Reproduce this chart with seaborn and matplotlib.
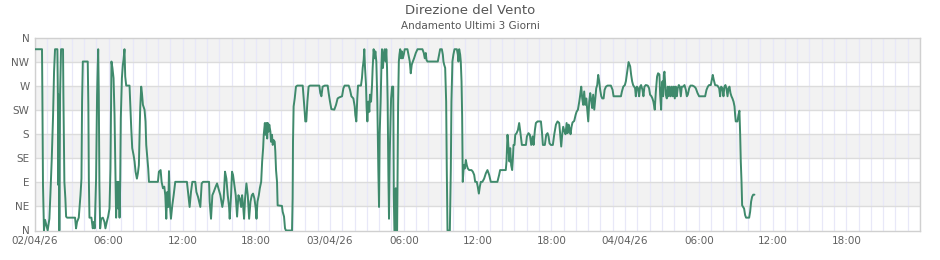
import matplotlib
matplotlib.use("Agg")
import matplotlib.pyplot as plt
import seaborn as sns
import pandas as pd

# hours since 02/04/26 00:00
hours = [
    0, 0.57, 0.60, 0.65, 0.73, 0.82, 0.95, 1.03, 1.17, 1.25, 1.36, 1.47, 1.55, 1.63, 1.82, 1.86, 1.90, 1.93, 1.98, 2.04,
    2.12, 2.28, 2.31, 2.39, 2.47, 2.53, 2.61, 3.26, 3.34, 3.42, 3.56, 3.70, 3.78, 3.83, 3.89, 4.29, 4.34, 4.38, 4.43, 4.59,
    4.70, 4.78, 4.86, 4.97, 5.05, 5.14, 5.19, 5.24, 5.30, 5.38, 5.52, 5.65, 5.73, 5.84, 5.95, 6.06, 6.14, 6.22, 6.30, 6.39,
    6.47, 6.55, 6.60, 6.68, 6.77, 6.82, 6.88, 6.93, 6.98, 7.07, 7.15, 7.20, 7.28, 7.34, 7.42, 7.69, 7.74, 7.83, 7.91, 8.02,
    8.10, 8.18, 8.29, 8.37, 8.45, 8.51, 8.56, 8.64, 8.70, 8.78, 8.91, 8.99, 9.05, 9.16, 9.21, 9.27, 9.73,
    10.0, 10.08, 10.22, 10.30, 10.41, 10.52, 10.60, 10.68, 10.76, 10.84, 10.90, 10.98, 11.06, 11.17, 11.28, 11.41, 12.36,
    12.45, 12.58, 12.69, 12.80, 13.04, 13.13, 13.26, 13.45, 13.56, 13.67, 14.16, 14.21, 14.32, 14.43, 14.54, 14.70, 14.81,
    14.92, 15.08, 15.24, 15.35, 15.46, 15.57, 15.68, 15.79, 15.84, 15.95, 16.03, 16.11, 16.20, 16.33, 16.44, 16.55, 16.66,
    16.77, 16.85, 16.93, 17.01, 17.09, 17.20, 17.31, 17.42, 17.53, 17.64, 17.74, 17.85, 17.96, 18.02, 18.10, 18.21, 18.29,
    18.40, 18.48, 18.56, 18.61, 18.70, 18.75, 18.83, 18.89, 18.94, 19.00,
    19.06, 19.15, 19.20, 19.28, 19.34, 19.42, 19.50, 19.55, 19.61, 19.69, 19.74, 20.09, 20.15, 20.26, 20.34, 20.42, 20.91,
    20.96, 20.99, 21.04, 21.13, 21.23, 21.34, 21.78, 21.86, 21.94, 21.99, 22.07, 22.16, 22.26, 22.37, 23.13, 23.21, 23.30,
    23.40, 23.57, 23.81, 23.89, 24.00, 24.11, 24.35, 24.49, 24.62, 24.76, 24.98, 25.09, 25.19, 25.52, 25.63, 25.74, 25.90,
    26.01, 26.06, 26.14, 26.22, 26.28, 26.52, 26.60, 26.66, 26.74, 26.79, 26.85, 26.93, 26.98, 27.04, 27.12, 27.20, 27.25,
    27.34, 27.42, 27.47, 27.55, 27.63, 27.69, 27.77, 27.85, 27.93, 27.99, 28.04, 28.12, 28.18, 28.23, 28.31, 28.37, 28.45,
    28.53, 28.58, 28.64, 28.69, 28.75, 28.80,
    28.86, 28.92, 28.97, 29.05, 29.14, 29.16, 29.19, 29.24, 29.33, 29.35, 29.41, 29.46, 29.49, 29.54, 29.60, 29.65, 29.71,
    29.79, 29.84, 29.92, 30.00, 30.08, 30.30, 30.38, 30.49, 30.57, 30.65, 30.74, 30.84, 30.98, 31.12, 31.52, 31.63, 31.71,
    31.79, 31.85, 31.93, 32.06, 32.77, 32.88, 32.96, 33.10, 33.18, 33.23, 33.29, 33.37, 33.45, 33.50, 33.56, 33.75, 33.83,
    33.88, 33.96, 34.04, 34.13, 34.32, 34.40, 34.45, 34.51, 34.59, 34.64, 34.70, 34.75, 34.78, 34.80, 34.89, 34.97, 35.05,
    35.13, 35.21, 35.32, 35.51, 35.62, 35.73, 35.81, 35.94, 36.02, 36.11, 36.19, 36.27, 36.40, 36.54, 36.68, 36.81, 36.95,
    37.08, 37.62, 37.76, 37.84, 38.30, 38.36, 38.44, 38.49, 38.55, 38.60, 38.66,
    38.74, 38.82, 38.88, 38.93, 39.01, 39.07, 39.18, 39.29, 39.39, 39.48, 39.56, 39.61, 39.94, 40.02, 40.15, 40.26, 40.37,
    40.48, 40.56, 40.67, 40.75, 40.89, 41.16, 41.24, 41.32, 41.48, 41.59, 41.70, 41.78, 41.86, 41.97, 42.13, 42.24, 42.38,
    42.51, 42.65, 42.73, 42.81, 42.89, 42.97, 43.08, 43.16, 43.25, 43.33, 43.41, 43.49, 43.57, 43.65, 43.73, 43.87, 43.98,
    44.06, 44.17, 44.28, 44.36, 44.44, 44.52, 44.60, 44.68, 44.76, 44.85, 44.93, 45.01, 45.09, 45.17, 45.25, 45.33, 45.41,
    45.50, 45.58, 45.66, 45.74, 45.82, 45.90, 45.98, 46.07, 46.15, 46.26, 46.34, 46.45, 46.58, 46.85, 46.99, 47.07, 47.26,
    47.67, 47.75, 47.86, 47.99, 48.07, 48.18, 48.29,
    48.42, 48.50, 48.58, 48.66, 48.74, 48.82, 48.88, 48.96, 49.07, 49.15, 49.23, 49.31, 49.42, 49.50, 49.58, 49.69, 49.85,
    49.96, 50.04, 50.15, 50.23, 50.31, 50.42, 50.51, 50.61, 50.69, 50.80, 50.86, 50.94, 50.99, 51.05, 51.10, 51.16, 51.21,
    51.26, 51.32, 51.40, 51.48, 51.56, 51.64, 51.72, 51.81, 51.89, 51.97, 52.05, 52.13, 52.21, 52.29, 52.38, 52.46, 52.54,
    52.62, 52.73, 52.84, 52.95, 53.03, 53.11, 53.22, 53.33, 53.49, 53.65, 53.76, 53.90, 54.03, 54.52, 54.63, 54.74, 54.84,
    54.98, 55.06, 55.14, 55.22, 55.33, 55.52, 55.66, 55.74, 55.82, 55.93, 56.01, 56.09, 56.17, 56.25, 56.34, 56.42, 56.50,
    56.58, 56.66, 56.74, 56.83, 56.91, 56.96, 57.01, 57.15, 57.23, 57.31, 57.37, 57.42, 57.48, 57.53, 57.61, 57.69, 57.77,
    57.85, 58.10, 58.18, 58.26, 58.34, 58.43, 58.53,
]

# wind direction in degrees
direction = [
    339, 339, 254, 85, 0, 20, 8, 0, 22, 66, 132, 215, 297, 339, 339, 254, 85, 254, 0, 254,
    339, 339, 254, 91, 60, 26, 24, 24, 4, 16, 24, 66, 97, 241, 316, 316, 235, 97, 24, 24,
    4, 16, 4, 97, 254, 339, 254, 85, 4, 22, 24, 16, 4, 16, 26, 41, 116, 316, 304, 285,
    216, 91, 24, 91, 41, 91, 24, 85, 210, 285, 310, 319, 339, 288, 271, 271, 241, 191, 154, 141,
    129, 110, 97, 107, 122, 179, 229, 269, 257, 235, 226, 204, 160, 129, 116, 91, 91,
    91, 110, 113, 91, 79, 82, 66, 22, 72, 44, 111, 47, 22, 47, 66, 91, 91,
    72, 44, 72, 91, 91, 72, 63, 44, 88, 91, 91, 54, 22, 66, 72, 82, 88,
    79, 66, 44, 60, 110, 97, 66, 44, 22, 66, 110, 104, 88, 66, 26, 66, 60,
    44, 66, 47, 22, 60, 88, 66, 22, 54, 66, 69, 60, 41, 22, 54, 66, 79,
    91, 129, 154, 179, 201, 179, 201, 172, 201, 185,
    198, 185, 166, 179, 160, 169, 166, 148, 113, 91, 47, 46, 35, 26, 4, 0, 0,
    60, 166, 232, 247, 269, 271, 271, 247, 222, 204, 204, 241, 269, 271, 271, 257, 251,
    269, 271, 271, 257, 241, 227, 226, 235, 247, 249, 251, 266, 271, 271, 263, 251, 247,
    232, 216, 204, 247, 271, 271, 285, 304, 319, 339, 304, 272, 229, 204, 241, 222, 254,
    241, 272, 304, 339, 322, 335, 316, 241, 116, 44, 179, 241, 304, 339, 304, 329, 339,
    316, 339, 304, 241, 104, 22,
    141, 204, 247, 269, 269, 204, 66, 0, 0, 79, 0, 0, 79, 235, 316, 329, 339,
    322, 335, 322, 329, 339, 339, 329, 316, 294, 310, 316, 322, 332, 339, 339, 332, 322,
    332, 319, 316, 316, 316, 329, 339, 339, 329, 316, 310, 304, 241, 116, 0, 0, 116,
    241, 316, 329, 339, 339, 329, 316, 339, 329, 316, 279, 216, 151, 91, 122, 116, 132,
    122, 116, 113, 113, 110, 104, 91, 91, 82, 69, 82, 91, 91, 97, 107, 113, 104,
    91, 91, 104, 113, 113, 129, 179, 166, 144, 129, 154,
    122, 113, 135, 160, 160, 179, 182, 188, 201, 185, 169, 160, 160, 176, 182, 179, 160,
    176, 160, 188, 201, 204, 204, 185, 160, 160, 179, 182, 176, 163, 160, 160, 179, 198,
    204, 201, 179, 157, 179, 194, 185, 180, 201, 182, 198, 191, 180, 194, 202, 205, 216,
    222, 226, 241, 254, 269, 247, 235, 260, 235, 247, 226, 204, 241, 257, 244, 229, 254,
    226, 247, 266, 272, 291, 279, 263, 251, 247, 247, 263, 269, 271, 271, 263, 251, 251,
    251, 260, 269, 272, 279, 297, 315,
    307, 291, 279, 272, 269, 266, 251, 269, 266, 251, 269, 272, 263, 251, 269, 272, 271,
    266, 254, 251, 247, 241, 226, 260, 288, 294, 292, 254, 226, 266, 279, 251, 291, 297,
    276, 254, 247, 269, 251, 269, 251, 269, 251, 269, 247, 269, 251, 266, 272, 269, 251,
    269, 269, 272, 263, 251, 254, 266, 271, 271, 269, 266, 257, 251, 251, 263, 269, 272,
    272, 282, 291, 282, 272, 271, 266, 251, 269, 266, 251, 269, 272, 266, 251, 266, 269,
    257, 251, 247, 241, 232, 216, 204, 204, 216, 224, 179, 129, 91, 47, 44, 41, 29,
    24, 24, 35, 54, 63, 67, 67,
]

dir_labels = ["N", "NE", "E", "SE", "S", "SW", "W", "NW", "N"]
x_labels = ["02/04/26", "06:00", "12:00", "18:00", "03/04/26", "06:00", "12:00", "18:00",
            "04/04/26", "06:00", "12:00", "18:00"]

title = "Direzione del Vento"
subtitle = "Andamento Ultimi 3 Giorni"

df = pd.DataFrame({"ore": hours, "direzione": direction})

sns.set_style("white")
plt.rcParams["font.family"] = ["DejaVu Sans"]

fig = plt.figure(figsize=(9.4, 2.6), dpi=100)
ax = fig.add_axes([35 / 940, 1 - 230.5 / 260, 885 / 940, 192.5 / 260])

# alternating bands
for k in range(8):
    if k % 2 == 1:
        ax.axhspan(k * 45, (k + 1) * 45, color="#f2f2f2", zorder=0, lw=0)

# hourly vertical grid
for h in range(0, 73):
    ax.axvline(h, color="#e8e8f8", lw=0.9, zorder=0.5)
for k in range(1, 8):
    ax.axhline(k * 45, color="#dcdcdc", lw=1.0, zorder=0.6)

sns.lineplot(data=df, x="ore", y="direzione", ax=ax, color="#3f8a6c", lw=1.4,
             estimator=None, sort=False, zorder=3)

ax.set_xlim(0, 72)
ax.set_ylim(0, 360)
ax.set_yticks(range(0, 361, 45))
ax.set_yticklabels(dir_labels)
ax.set_xticks(range(0, 72, 6))
ax.set_xticklabels(x_labels)
ax.set_xlabel("")
ax.set_ylabel("")
ax.tick_params(axis="both", length=0, labelsize=7.5, labelcolor="#606060", pad=4)
for s in ax.spines.values():
    s.set_color("#d0d0d0")
    s.set_linewidth(1.0)

fig.text(0.5, 1 - 11 / 260, title, ha="center", va="center", fontsize=9.5, color="#555555")
fig.text(0.5, 1 - 26 / 260, subtitle, ha="center", va="center", fontsize=7.5, color="#555555")

fig.savefig("out.png", dpi=100)
